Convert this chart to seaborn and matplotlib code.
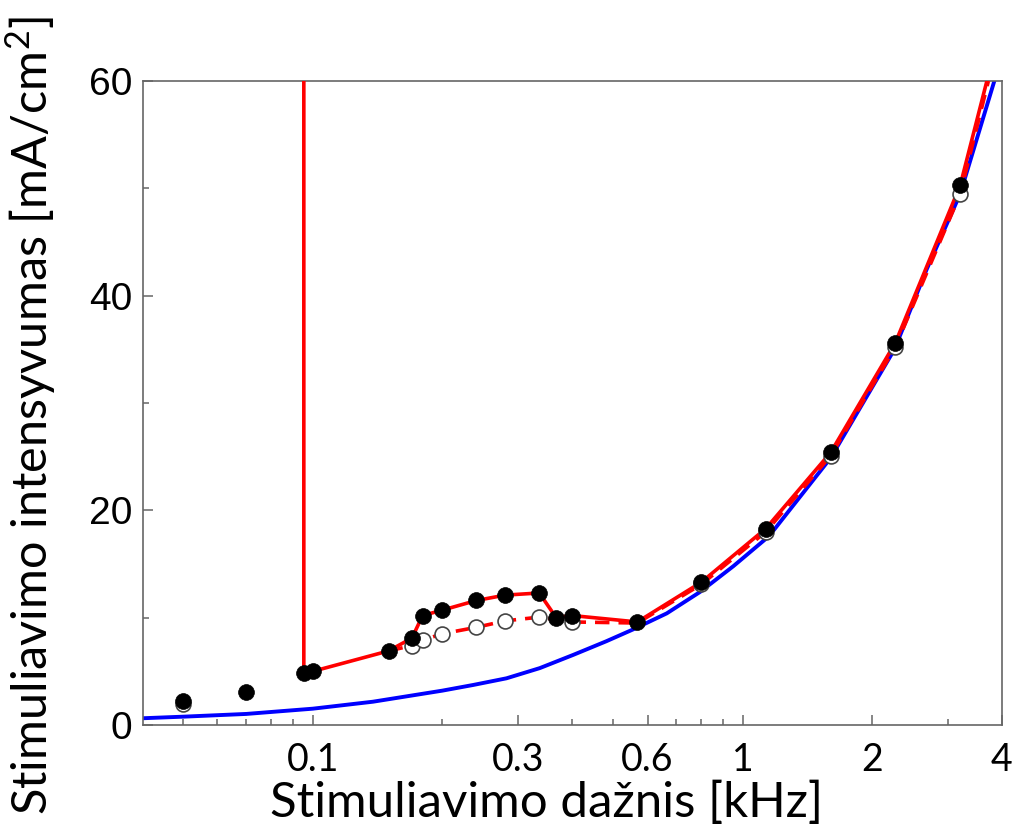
import matplotlib

matplotlib.use("Agg")
import matplotlib.pyplot as plt
from matplotlib.ticker import FixedLocator, FixedFormatter, NullFormatter
import pandas as pd
import seaborn as sns

# measured points (filled = solid red curve, open = dashed red curve)
freq_filled = [0.05, 0.07, 0.0953, 0.1, 0.15, 0.17, 0.18, 0.2, 0.24, 0.28, 0.336,
               0.368, 0.4, 0.568, 0.8, 1.13, 1.6, 2.26, 3.2]
amp_filled = [2.2, 3.1, 4.85, 5.0, 6.9, 8.1, 10.2, 10.7, 11.6, 12.1, 12.3,
              10.0, 10.2, 9.6, 13.3, 18.3, 25.4, 35.6, 50.3]
freq_open = [0.05, 0.17, 0.18, 0.2, 0.24, 0.28, 0.336, 0.4, 0.8, 1.13, 1.6, 2.26, 3.2]
amp_open = [2.0, 7.4, 7.9, 8.5, 9.1, 9.7, 10.05, 9.6, 13.1, 18.0, 25.1, 35.2, 49.5]

# red solid: vertical jump at the block frequency, then through the filled points
solid_x = [0.0953, 0.0953, 0.1, 0.15, 0.17, 0.18, 0.2, 0.24, 0.28, 0.336, 0.368,
           0.4, 0.568, 0.8, 1.13, 1.6, 2.26, 3.2, 3.69]
solid_y = [60, 4.85, 5.0, 6.9, 8.1, 10.2, 10.7, 11.6, 12.1, 12.3, 10.0,
           10.2, 9.6, 13.3, 18.3, 25.4, 35.6, 50.3, 60]
dashed_x = [0.15, 0.17, 0.18, 0.2, 0.24, 0.28, 0.336, 0.4, 0.568, 0.8, 1.13,
            1.6, 2.26, 3.2, 3.72]
dashed_y = [6.9, 7.4, 7.9, 8.5, 9.1, 9.7, 10.05, 9.6, 9.5, 13.1, 18.0,
            25.1, 35.2, 49.5, 60]

# blue model curve
model_x = [0.0403, 0.0503, 0.07, 0.1, 0.138, 0.2, 0.236, 0.282, 0.337, 0.403,
           0.481, 0.555, 0.665, 0.795, 0.95, 1.15, 1.6, 2.25, 2.67, 3.2, 3.84, 3.95]
model_y = [0.63, 0.78, 1.03, 1.52, 2.17, 3.2, 3.73, 4.35, 5.3, 6.53,
           7.8, 8.9, 10.4, 12.4, 14.8, 17.6, 24.9, 35.0, 42.4, 49.5, 60, 62]

x_major = [0.1, 0.3, 0.6, 1, 2, 4]
x_major_labels = ["0.1", "0.3", "0.6", "1", "2", "4"]
x_minor = [0.05, 0.06, 0.07, 0.08, 0.09, 0.2, 0.4, 0.5, 0.7, 0.8, 0.9, 3]
y_major = [0, 20, 40, 60]
y_minor = [10, 30, 50]

sns.set_theme(style="ticks")
LABEL_FONT = ["Lato", "DejaVu Sans"]
REGULAR = ["Liberation Sans", "DejaVu Sans"]
plt.rcParams["mathtext.fontset"] = "custom"
plt.rcParams["mathtext.rm"] = "Lato"
plt.rcParams["mathtext.it"] = "Lato:italic"
FRAME = "#666666"
RED, BLUE = "#ff0000", "#0000ff"

fig = plt.figure(figsize=(10.13, 8.34), dpi=100)
ax = fig.add_axes([0.1412, 0.1307, 0.9891 - 0.1412, 0.9029 - 0.1307])
ax.set_xscale("log")

model = pd.DataFrame({"f": model_x, "I": model_y})
solid = pd.DataFrame({"f": solid_x, "I": solid_y})
dashed = pd.DataFrame({"f": dashed_x, "I": dashed_y})
filled = pd.DataFrame({"f": freq_filled, "I": amp_filled})
opened = pd.DataFrame({"f": freq_open, "I": amp_open})

sns.lineplot(data=model, x="f", y="I", sort=False, estimator=None, color=BLUE,
             lw=2.8, ax=ax, zorder=2)
sns.lineplot(data=dashed, x="f", y="I", sort=False, estimator=None, color=RED,
             lw=2.6, ax=ax, zorder=3, linestyle=(0, (4, 2.5)))
sns.lineplot(data=solid, x="f", y="I", sort=False, estimator=None, color=RED,
             lw=2.6, ax=ax, zorder=3)
sns.scatterplot(data=opened, x="f", y="I", s=115, facecolor="white",
                edgecolor="#444444", linewidth=1.2, ax=ax, zorder=4)
sns.scatterplot(data=filled, x="f", y="I", s=130, color="black",
                edgecolor="black", linewidth=0.5, ax=ax, zorder=5)

ax.set_xlim(0.0403, 4)
ax.set_ylim(0, 60)

ax.xaxis.set_major_locator(FixedLocator(x_major))
ax.xaxis.set_major_formatter(FixedFormatter(x_major_labels))
ax.xaxis.set_minor_locator(FixedLocator(x_minor))
ax.xaxis.set_minor_formatter(NullFormatter())
ax.yaxis.set_major_locator(FixedLocator(y_major))
ax.yaxis.set_minor_locator(FixedLocator(y_minor))

ax.tick_params(which="both", direction="in", color=FRAME, width=1.1,
               top=False, right=False, labelcolor="black")
ax.tick_params(which="major", length=7)
ax.tick_params(which="minor", length=4)
ax.tick_params(axis="x", which="major", pad=12)
ax.tick_params(axis="y", which="major", pad=8)
for lab in ax.get_xticklabels():
    lab.set_fontfamily(LABEL_FONT)
    lab.set_fontsize(27)
for lab in ax.get_yticklabels():
    lab.set_fontfamily(REGULAR)
    lab.set_fontsize(28)

for sp in ax.spines.values():
    sp.set_color(FRAME)
    sp.set_linewidth(1.2)

ax.set_xlabel("Stimuliavimo dažnis [kHz]", fontsize=35.5, family=LABEL_FONT,
              color="black")
ax.set_ylabel("Stimuliavimo intensyvumas [mA/cm$^2$]", fontsize=35, family=LABEL_FONT,
              color="black")
ax.xaxis.set_label_coords(0.47, -0.086)
ax.yaxis.set_label_coords(-0.099, 0.48)

fig.savefig("out.png", dpi=100)
